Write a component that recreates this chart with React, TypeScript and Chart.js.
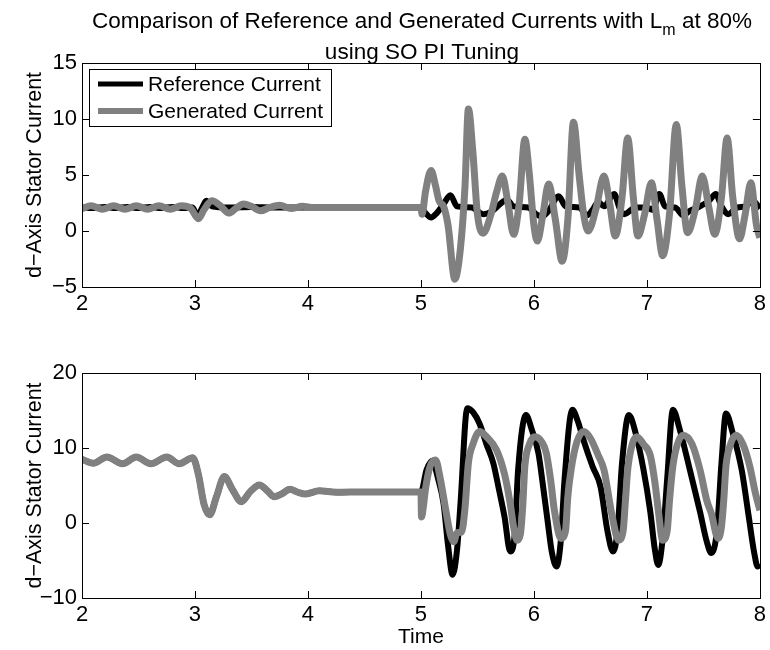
import React, { useEffect, useRef } from 'react';
import { Chart, registerables } from 'chart.js';

Chart.register(...registerables);

const FONT = '"Liberation Sans", Arial, Helvetica, sans-serif';

// ---------- Data ----------
const TITLE_MAIN = 'Comparison of Reference and Generated Currents with L';
const TITLE_SUB = 'm';
const TITLE_TAIL = ' at 80%';
const TITLE_LINE2 = 'using SO PI Tuning';
const Y_LABEL = 'd\u2212Axis Stator Current';
const X_LABEL = 'Time';
const SERIES_NAMES = ['Reference Current', 'Generated Current'];

const X_TICKS = [2, 3, 4, 5, 6, 7, 8];
const TOP_Y_TICKS = [-5, 0, 5, 10, 15];
const BOT_Y_TICKS = [-10, 0, 10, 20];

// Top plot - reference current
const topRefT = [2.0, 2.1, 2.2, 2.3, 2.4, 2.5, 2.6, 2.7, 2.8, 2.9, 2.98, 3.02, 3.06, 3.1, 3.15, 3.3, 3.5, 3.7, 4.0, 5.0,
  5.04, 5.09, 5.14, 5.2, 5.26, 5.32, 5.45, 5.55, 5.62, 5.7, 5.76, 5.82, 5.95, 6.02, 6.07, 6.13, 6.22, 6.28, 6.4, 6.47,
  6.52, 6.57, 6.62, 6.71, 6.76, 6.8, 6.9, 7.0, 7.05, 7.11, 7.16, 7.25, 7.32, 7.38, 7.45, 7.55, 7.61, 7.66, 7.72, 7.8,
  7.88, 7.93, 8.0];
const topRefV = [2.1, 2.05, 2.15, 2.05, 2.15, 2.05, 2.15, 2.05, 2.15, 2.05, 2.1, 1.3, 2.0, 2.7, 2.2, 2.1, 2.15, 2.1, 2.1, 2.1,
  1.6, 1.2, 1.6, 2.4, 3.2, 2.2, 2.1, 1.5, 1.7, 2.4, 2.8, 2.2, 2.1, 1.5, 1.3, 1.8, 3.1, 2.2, 2.1, 1.4,
  1.9, 2.6, 2.2, 3.3, 2.0, 1.5, 2.1, 2.1, 1.9, 3.3, 2.2, 2.1, 1.4, 1.8, 2.1, 2.7, 3.3, 2.2, 1.5, 2.1,
  2.2, 2.8, 2.0];

// Top plot - generated current
const topGenT = [2.0, 2.08, 2.18, 2.28, 2.38, 2.48, 2.58, 2.68, 2.78, 2.88, 2.96, 3.03, 3.08, 3.15, 3.22, 3.3, 3.36, 3.43,
  3.5, 3.58, 3.66, 3.75, 3.85, 3.95, 4.05, 4.2, 4.5, 5.0, 5.01, 5.04, 5.09, 5.13, 5.16, 5.2, 5.24, 5.3, 5.35, 5.39, 5.42,
  5.46, 5.5, 5.55, 5.62, 5.67, 5.72, 5.77, 5.82, 5.87, 5.92, 5.96, 6.0, 6.03, 6.08, 6.13, 6.19, 6.25, 6.3, 6.35, 6.4,
  6.44, 6.48, 6.55, 6.62, 6.67, 6.72, 6.78, 6.83, 6.88, 6.92, 6.98, 7.04, 7.09, 7.14, 7.2, 7.26, 7.31, 7.36, 7.43, 7.49,
  7.55, 7.6, 7.66, 7.71, 7.76, 7.82, 7.87, 7.92, 7.97, 8.0];
const topGenV = [2.0, 2.25, 1.95, 2.25, 1.95, 2.25, 1.95, 2.25, 1.95, 2.25, 2.05, 1.1, 1.9, 2.7, 2.3, 1.6, 2.0, 2.4,
  2.2, 1.8, 2.1, 2.3, 2.0, 2.2, 2.1, 2.1, 2.1, 2.1, 1.5, 3.5, 5.4, 4.0, 2.7, 2.2, 0.5, -4.3, -1.5, 4.0, 10.9,
  7.0, 1.5, -0.2, 1.5, 3.5, 4.9, 2.5, -0.3, 2.5, 8.2, 5.0, 0.5, -0.9, 1.5, 4.2, 1.0, -2.7, 1.0, 9.7, 5.0,
  1.5, 0.0, 2.0, 4.9, 2.5, -0.45, 3.0, 8.3, 3.0, -0.45, 1.5, 4.3, 1.0, -2.2, 1.5, 9.5, 4.0, -0.15, 2.0, 4.9,
  2.0, -0.3, 3.0, 8.3, 3.0, -0.7, 1.5, 4.3, 0.5, -0.6];

// Bottom plot - reference current
const botRefT = [2.0, 2.1, 2.22, 2.36, 2.48, 2.61, 2.75, 2.86, 2.98, 3.03, 3.08, 3.13, 3.19, 3.26, 3.33, 3.41, 3.49, 3.57,
  3.64, 3.7, 3.77, 3.84, 3.91, 3.98, 4.1, 4.25, 4.5, 5.0, 5.05, 5.1, 5.15, 5.2, 5.24, 5.28, 5.32, 5.35, 5.41, 5.46, 5.52,
  5.58, 5.64, 5.69, 5.74, 5.79, 5.83, 5.86, 5.93, 5.98, 6.04, 6.08, 6.12, 6.16, 6.2, 6.24, 6.27, 6.34, 6.39, 6.44, 6.52,
  6.59, 6.65, 6.7, 6.74, 6.78, 6.84, 6.9, 6.97, 7.03, 7.07, 7.1, 7.14, 7.18, 7.23, 7.29, 7.38, 7.47, 7.53, 7.57, 7.62,
  7.66, 7.7, 7.76, 7.84, 7.9, 7.95, 7.98, 8.0];
const botRefV = [8.5, 7.96, 8.8, 7.9, 8.8, 7.9, 8.8, 7.9, 8.7, 6.5, 2.5, 1.1, 3.5, 6.2, 4.5, 2.85, 4.2, 5.07,
  4.3, 3.5, 3.9, 4.5, 4.1, 3.87, 4.3, 4.1, 4.15, 4.15, 7.1, 8.3, 6.0, 2.6, -3.0, -6.9, -3.5, 2.6, 15.3, 14.8, 13.2,
  10.5, 8.0, 4.5, 0.8, -3.8, -1.5, 7.1, 14.4, 12.5, 9.3, 5.0, 0.4, -4.0, -5.8, -2.0, 5.6, 15.1, 13.5, 11.0, 7.5,
  4.8, -1.0, -3.8, -1.0, 8.0, 14.4, 12.0, 7.1, 1.5, -3.5, -5.6, -2.0, 6.0, 15.1, 12.5, 7.1, 1.5, -2.5, -4.0, -1.0,
  8.0, 14.6, 12.0, 7.0, 1.0, -4.0, -5.8, -5.5];

// Bottom plot - generated current
const botGenT = [2.0, 2.1, 2.22, 2.36, 2.48, 2.61, 2.75, 2.86, 2.98, 3.03, 3.08, 3.13, 3.19, 3.26, 3.33, 3.41, 3.49, 3.57,
  3.64, 3.7, 3.77, 3.84, 3.91, 3.98, 4.1, 4.25, 4.5, 5.0, 5.005, 5.02, 5.04, 5.08, 5.13, 5.17, 5.22, 5.26, 5.29, 5.32,
  5.36, 5.39, 5.42, 5.46, 5.52, 5.58, 5.67, 5.74, 5.79, 5.82, 5.85, 5.88, 5.9, 5.92, 5.96, 6.01, 6.07, 6.11, 6.15, 6.18,
  6.24, 6.28, 6.3, 6.33, 6.38, 6.44, 6.5, 6.57, 6.62, 6.69, 6.75, 6.79, 6.81, 6.83, 6.87, 6.91, 6.97, 7.03, 7.07, 7.1,
  7.14, 7.18, 7.2, 7.23, 7.27, 7.32, 7.4, 7.47, 7.53, 7.57, 7.63, 7.66, 7.68, 7.7, 7.74, 7.79, 7.85, 7.91, 7.96, 8.0];
const botGenV = [8.5, 7.96, 8.8, 7.9, 8.8, 7.9, 8.8, 7.9, 8.7, 6.5, 2.5, 1.1, 3.5, 6.2, 4.5, 2.85, 4.2, 5.07,
  4.3, 3.5, 3.9, 4.5, 4.1, 3.87, 4.3, 4.1, 4.15, 4.15, 0.8, 2.0, 4.5, 7.5, 8.4, 6.0, 1.7, -1.5, -2.5, -1.3,
  -1.2, 2.0, 8.0, 10.5, 12.2, 11.5, 9.7, 6.5, 2.6, -0.5, -2.3, -1.5, 2.0, 7.6, 10.5, 11.5, 10.8, 9.3, 5.5, 1.8,
  -2.05, -1.0, 3.5, 7.2, 10.8, 12.2, 11.3, 9.0, 7.1, 1.1, -2.3, -1.0, 3.0, 7.1, 10.5, 11.5, 10.5, 9.0, 5.5, 1.8,
  -2.3, -1.0, 3.0, 7.6, 10.5, 11.7, 10.5, 7.1, 3.0, 1.3, -2.05, -0.5, 3.0, 7.6, 10.5, 11.7, 10.5, 7.6, 4.0, 1.7];

const REF_COLOR = '#000000';
const GEN_COLOR = '#808080';

// ---------- helpers ----------
const pts = (t: number[], v: number[]) => t.map((x, i) => ({ x, y: v[i] }));
const fmt = (v: number) => (v < 0 ? '\u2212' + Math.abs(v) : String(v));

const boxPlugin = {
  id: 'boxTicks',
  afterDraw(chart: any) {
    const { ctx, chartArea: a, scales } = chart;
    ctx.save();
    ctx.strokeStyle = '#000';
    ctx.lineWidth = 1;
    ctx.strokeRect(Math.round(a.left) + 0.5, Math.round(a.top) + 0.5, Math.round(a.right - a.left), Math.round(a.bottom - a.top));
    const L = 7;
    ctx.beginPath();
    scales.x.ticks.forEach((t: any) => {
      const px = Math.round(scales.x.getPixelForValue(t.value)) + 0.5;
      ctx.moveTo(px, a.bottom); ctx.lineTo(px, a.bottom - L);
      ctx.moveTo(px, a.top); ctx.lineTo(px, a.top + L);
    });
    scales.y.ticks.forEach((t: any) => {
      const py = Math.round(scales.y.getPixelForValue(t.value)) + 0.5;
      ctx.moveTo(a.left, py); ctx.lineTo(a.left + L, py);
      ctx.moveTo(a.right, py); ctx.lineTo(a.right - L, py);
    });
    ctx.stroke();
    ctx.restore();
  },
};

const titlePlugin = {
  id: 'mtitle',
  afterDraw(chart: any) {
    const { ctx } = chart;
    ctx.save();
    ctx.fillStyle = '#000';
    ctx.textBaseline = 'alphabetic';
    const big = `22.5px ${FONT}`;
    const small = `16px ${FONT}`;
    ctx.font = big;
    const w1 = ctx.measureText(TITLE_MAIN).width;
    const w3 = ctx.measureText(TITLE_TAIL).width;
    ctx.font = small;
    const w2 = ctx.measureText(TITLE_SUB).width;
    const cx = 422;
    let x = cx - (w1 + w2 + w3) / 2;
    ctx.textAlign = 'left';
    ctx.font = big;
    ctx.fillText(TITLE_MAIN, x, 28);
    x += w1;
    ctx.font = small;
    ctx.fillText(TITLE_SUB, x, 35);
    x += w2;
    ctx.font = big;
    ctx.fillText(TITLE_TAIL, x, 28);
    ctx.textAlign = 'center';
    ctx.fillText(TITLE_LINE2, cx, 59);
    ctx.restore();
  },
};

const legendPlugin = {
  id: 'mlegend',
  afterDraw(chart: any) {
    const { ctx } = chart;
    const ds = chart.data.datasets;
    ctx.save();
    const bx = 89.5, by = 69.5, bw = 242, bh = 57;
    ctx.fillStyle = '#fff';
    ctx.fillRect(bx, by, bw, bh);
    ctx.strokeStyle = '#000';
    ctx.lineWidth = 1;
    ctx.strokeRect(bx, by, bw, bh);
    ctx.font = `21px ${FONT}`;
    ctx.textBaseline = 'middle';
    ctx.textAlign = 'left';
    const ys = [84, 111];
    ds.forEach((d: any, i: number) => {
      ctx.strokeStyle = d.borderColor;
      ctx.lineWidth = d.borderWidth - 1;
      ctx.beginPath();
      ctx.moveTo(98, ys[i]);
      ctx.lineTo(143, ys[i]);
      ctx.stroke();
      ctx.fillStyle = '#000';
      ctx.fillText(d.label, 148, ys[i] + 1);
    });
    ctx.restore();
  },
};

function makeConfig(opts: {
  ref: { x: number; y: number }[];
  gen: { x: number; y: number }[];
  yTicks: number[];
  padTop: number;
  xHeight: number;
  xTitle: boolean;
  extra: any[];
}) {
  const yMin = opts.yTicks[0];
  const yMax = opts.yTicks[opts.yTicks.length - 1];
  return {
    type: 'line' as const,
    data: {
      datasets: [
        {
          label: SERIES_NAMES[0],
          data: opts.ref,
          borderColor: REF_COLOR,
          backgroundColor: REF_COLOR,
          borderWidth: 6,
          pointRadius: 0,
          cubicInterpolationMode: 'monotone' as const,
          order: 1,
          clip: 0,
        },
        {
          label: SERIES_NAMES[1],
          data: opts.gen,
          borderColor: GEN_COLOR,
          backgroundColor: GEN_COLOR,
          borderWidth: 7,
          pointRadius: 0,
          cubicInterpolationMode: 'monotone' as const,
          order: 0,
          clip: 0,
        },
      ],
    },
    options: {
      responsive: false,
      animation: false as const,
      events: [],
      layout: { padding: { top: opts.padTop, right: 8, left: 0, bottom: 0 } },
      plugins: { legend: { display: false }, title: { display: false }, tooltip: { enabled: false } },
      scales: {
        x: {
          type: 'linear' as const,
          min: X_TICKS[0],
          max: X_TICKS[X_TICKS.length - 1],
          afterBuildTicks: (s: any) => { s.ticks = X_TICKS.map((v) => ({ value: v })); },
          grid: { display: false, drawTicks: false },
          border: { display: false },
          ticks: { color: '#000', padding: 4, font: { family: FONT, size: 22 }, maxRotation: 0, callback: (v: any) => fmt(v) },
          title: { display: opts.xTitle, text: X_LABEL, color: '#000', font: { family: FONT, size: 21 }, padding: { top: 0, bottom: 0 } },
          afterFit: (s: any) => { s.height = opts.xHeight; },
        },
        y: {
          type: 'linear' as const,
          min: yMin,
          max: yMax,
          afterBuildTicks: (s: any) => { s.ticks = opts.yTicks.map((v) => ({ value: v })); },
          grid: { display: false, drawTicks: false },
          border: { display: false },
          ticks: { color: '#000', padding: 5, font: { family: FONT, size: 22 }, callback: (v: any) => fmt(v) },
          title: { display: true, text: Y_LABEL, color: '#000', font: { family: FONT, size: 21.5 }, padding: { top: 22, bottom: 0 } },
          afterFit: (s: any) => { s.width = 82; },
        },
      },
    },
    plugins: opts.extra,
  };
}

export default function App() {
  const topRef = useRef<HTMLCanvasElement>(null);
  const botRef = useRef<HTMLCanvasElement>(null);

  useEffect(() => {
    const c1 = new Chart(topRef.current as HTMLCanvasElement, makeConfig({
      ref: pts(topRefT, topRefV),
      gen: pts(topGenT, topGenV),
      yTicks: TOP_Y_TICKS,
      padTop: 63,
      xHeight: 38,
      xTitle: false,
      extra: [boxPlugin, titlePlugin, legendPlugin],
    }) as any);
    const c2 = new Chart(botRef.current as HTMLCanvasElement, makeConfig({
      ref: pts(botRefT, botRefV),
      gen: pts(botGenT, botGenV),
      yTicks: BOT_Y_TICKS,
      padTop: 48,
      xHeight: 52,
      xTitle: true,
      extra: [boxPlugin],
    }) as any);
    return () => { c1.destroy(); c2.destroy(); };
  }, []);

  return (
    <div style={{ position: 'absolute', left: 0, top: 0, width: 770, height: 650, background: '#fff' }}>
      <canvas ref={topRef} width={770} height={325} style={{ position: 'absolute', left: 0, top: 0, width: 770, height: 325 }} />
      <canvas ref={botRef} width={770} height={325} style={{ position: 'absolute', left: 0, top: 325, width: 770, height: 325 }} />
    </div>
  );
}
